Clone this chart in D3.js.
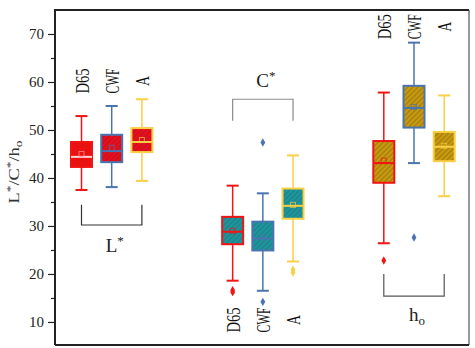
<!DOCTYPE html>
<html>
<head>
<meta charset="utf-8">
<script src="https://cdn.jsdelivr.net/npm/d3@7"></script>
<style>
  body { margin: 0; background: #fff; }
  svg { display: block; }
</style>
</head>
<body>
<script>
// groups of measures and the three illuminants inside each
const groups = ["L*", "C*", "ho"];
const illuminants = ["D65", "CWF", "A"];

// box stats, [group][illuminant]
const whiskerLow  = [[37.5, 38.1, 39.4], [18.6, 16.5, 22.6], [26.4, 43.1, 36.2]];
const q1          = [[42.3, 43.3, 45.4], [26.2, 24.9, 31.5], [39.0, 50.5, 43.5]];
const median      = [[44.4, 45.6, 47.5], [28.8, 27.4, 34.2], [43.1, 54.6, 46.5]];
const q3          = [[47.5, 49.0, 50.4], [31.9, 30.9, 37.8], [47.7, 59.2, 49.6]];
const whiskerHigh = [[52.9, 55.0, 56.4], [38.4, 36.8, 44.7], [57.8, 68.2, 57.2]];
const means       = [[45.0, 46.3, 47.9], [29.0, 27.6, 34.4], [43.6, 54.8, 46.7]];
const outliers    = [[[], [], []], [[16.2, 16.6], [14.2, 47.4], [20.3, 20.9]], [[22.8], [27.6], []]];

// brackets + labels (in data units)
const bracketBar  = [30.2, 56.4, 15.4];
const bracketLegs = [34.4, 51.9, 20.0];
const groupLabelAt = [24.6, 59.0, 10.1];
const illumLabelAt = [60.2, 10.4, 71.5];

const yTicks = [10, 20, 30, 40, 50, 60, 70];
const yMinor = [15, 25, 35, 45, 55, 65];

const W = 475, H = 348;
const margin = {left: 55, top: 10, right: 6, bottom: 3};

const borderCol = ["#f01414", "#4a74b0", "#f9cf45"];
const groupFill = ["#ea1111", "#179a9c", "#c99c08"];
const hatchCol  = ["#c40c34", "#2a7a8a", "#a07a1c"];
const bracketCol = ["#333", "#8a8a8a", "#555"];

const svg = d3.select("body").append("svg")
    .attr("width", W)
    .attr("height", H)
    .style("font-family", "'Liberation Serif', 'Times New Roman', serif");

const y = d3.scaleLinear()
    .domain([5.2, 75])
    .range([H - margin.bottom, margin.top]);

const xGroup = d3.scalePoint()
    .domain(groups)
    .range([111.7, 414]);

const xInner = d3.scalePoint()
    .domain(illuminants)
    .range([-30.2, 30.2]);

const boxW = 21, capW = 12;

// hatch patterns, one per group
const defs = svg.append("defs");
groups.forEach((g, i) => {
    const p = defs.append("pattern")
        .attr("id", "hatch" + i)
        .attr("patternUnits", "userSpaceOnUse")
        .attr("width", 3.6)
        .attr("height", 3.6)
        .attr("patternTransform", "rotate(45)");
    p.append("rect").attr("width", 3.6).attr("height", 3.6).attr("fill", groupFill[i]);
    p.append("line")
        .attr("x1", 0.8).attr("x2", 0.8)
        .attr("y1", 0).attr("y2", 3.6)
        .attr("stroke", hatchCol[i])
        .attr("stroke-width", 1.3);
});

// y axis
const yAxis = svg.append("g")
    .attr("transform", `translate(${margin.left},0)`)
    .call(d3.axisLeft(y).tickValues(yTicks).tickSize(7).tickPadding(4));
yAxis.select(".domain").remove();
yAxis.selectAll("text")
    .attr("font-size", 15)
    .attr("fill", "#222")
    .style("font-family", "'Liberation Serif', serif");
yAxis.selectAll("line").attr("stroke", "#222").attr("stroke-width", 1.2);

const yMinorAxis = svg.append("g")
    .attr("transform", `translate(${margin.left},0)`)
    .call(d3.axisLeft(y).tickValues(yMinor).tickSize(4).tickFormat(""));
yMinorAxis.select(".domain").remove();
yMinorAxis.selectAll("line").attr("stroke", "#222").attr("stroke-width", 1.2);

// frame
const x0 = margin.left, x1 = W - margin.right;
const yTop = margin.top, yBot = H - margin.bottom;
svg.append("line").attr("x1", x0).attr("x2", x1).attr("y1", yTop).attr("y2", yTop)
    .attr("stroke", "#222").attr("stroke-width", 2);
svg.append("line").attr("x1", x0).attr("x2", x0).attr("y1", yTop - 1).attr("y2", yBot)
    .attr("stroke", "#222").attr("stroke-width", 2);
svg.append("line").attr("x1", x1).attr("x2", x1).attr("y1", yTop).attr("y2", yBot)
    .attr("stroke", "#333").attr("stroke-width", 1);
svg.append("line").attr("x1", x0).attr("x2", x1).attr("y1", yBot).attr("y2", yBot)
    .attr("stroke", "#222").attr("stroke-width", 2);

// y title  L*/C*/ho
const yTitle = svg.append("text")
    .attr("transform", "translate(19,172) rotate(-90)")
    .attr("text-anchor", "middle")
    .attr("font-size", 15)
    .attr("fill", "#333")
    .attr("textLength", 63)
    .attr("lengthAdjust", "spacingAndGlyphs");
yTitle.append("tspan").text("L");
yTitle.append("tspan").attr("dy", -5).attr("font-size", 11).text("*");
yTitle.append("tspan").attr("dy", 5).text("/C");
yTitle.append("tspan").attr("dy", -5).attr("font-size", 11).text("*");
yTitle.append("tspan").attr("dy", 5).text("/h");
yTitle.append("tspan").attr("dy", 3).attr("font-size", 11).text("o");

// boxes
groups.forEach((g, gi) => {
    const cx0 = xGroup(g);
    const grp = svg.append("g");

    illuminants.forEach((il, ii) => {
        const cx = cx0 + xInner(il);
        const col = borderCol[ii];
        const solid = gi === 0 && ii === 0;

        // whisker
        grp.append("line")
            .attr("x1", cx).attr("x2", cx)
            .attr("y1", y(whiskerLow[gi][ii])).attr("y2", y(whiskerHigh[gi][ii]))
            .attr("stroke", col).attr("stroke-width", 1.5);
        [whiskerLow[gi][ii], whiskerHigh[gi][ii]].forEach(v => {
            grp.append("line")
                .attr("x1", cx - capW / 2).attr("x2", cx + capW / 2)
                .attr("y1", y(v)).attr("y2", y(v))
                .attr("stroke", col).attr("stroke-width", 2);
        });

        // box
        grp.append("rect")
            .attr("x", cx - boxW / 2)
            .attr("y", y(q3[gi][ii]))
            .attr("width", boxW)
            .attr("height", y(q1[gi][ii]) - y(q3[gi][ii]))
            .attr("fill", solid ? groupFill[gi] : `url(#hatch${gi})`)
            .attr("stroke", col)
            .attr("stroke-width", 2);

        // median
        grp.append("line")
            .attr("x1", cx - boxW / 2).attr("x2", cx + boxW / 2)
            .attr("y1", y(median[gi][ii])).attr("y2", y(median[gi][ii]))
            .attr("stroke", solid ? "#ffd6d6" : col)
            .attr("stroke-width", 2);

        // mean
        grp.append("rect")
            .attr("x", cx - 2.5).attr("y", y(means[gi][ii]) - 2.5)
            .attr("width", 5).attr("height", 5)
            .attr("fill", "none")
            .attr("stroke", solid ? "#ff9a9a" : col)
            .attr("stroke-opacity", 0.7)
            .attr("stroke-width", 1);

        // outliers
        grp.selectAll(null)
            .data(outliers[gi][ii])
            .join("path")
            .attr("d", d3.symbol(d3.symbolDiamond, 20))
            .attr("transform", d => `translate(${cx},${y(d)})`)
            .attr("fill", col);

        // illuminant label, rotated
        grp.append("text")
            .attr("transform", `translate(${cx + 1},${y(illumLabelAt[gi])}) rotate(-90)`)
            .attr("text-anchor", "middle")
            .attr("dominant-baseline", "central")
            .attr("font-size", 18)
            .attr("fill", "#111")
            .attr("textLength", il.length === 1 ? 10 : 25)
            .attr("lengthAdjust", "spacingAndGlyphs")
            .text(il);
    });

    // bracket
    const bx0 = cx0 + xInner("D65"), bx1 = cx0 + xInner("A");
    const yb = y(bracketBar[gi]), yl = y(bracketLegs[gi]);
    grp.append("path")
        .attr("d", `M${bx0},${yl}V${yb}H${bx1}V${yl}`)
        .attr("fill", "none")
        .attr("stroke", bracketCol[gi])
        .attr("stroke-width", 1.2);

    // group label
    const lab = grp.append("text")
        .attr("x", (bx0 + bx1) / 2 + 3)
        .attr("y", y(groupLabelAt[gi]))
        .attr("text-anchor", "middle")
        .attr("font-size", 19)
        .attr("fill", "#222");
    if (g === "ho") {
        lab.append("tspan").text("h");
        lab.append("tspan").attr("dy", 4).attr("font-size", 13).text("o");
    } else {
        lab.append("tspan").text(g[0]);
        lab.append("tspan").attr("dy", -7).attr("font-size", 13).text("*");
    }
});
</script>
</body>
</html>
